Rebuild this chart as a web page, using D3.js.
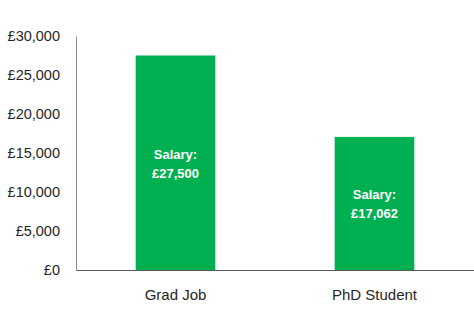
<!DOCTYPE html>
<html>
<head>
<meta charset="utf-8">
<style>
body { margin: 0; background: white; }
text { font-family: "Liberation Sans", Arial, sans-serif; }
</style>
<script src="https://d3js.org/d3.v7.min.js"></script>
</head>
<body>
<div id="chart"></div>
<script>
var categories = ["Grad Job", "PhD Student"];
var salaries = [27500, 17062];
var tickValues = [0, 5000, 10000, 15000, 20000, 25000, 30000];

var W = 474, H = 312;
var margin = {top: 36, right: 0, bottom: 42, left: 76};

var svg = d3.select("#chart").append("svg")
    .attr("width", W)
    .attr("height", H);

var x = d3.scaleBand()
    .domain(categories)
    .range([margin.left, W - margin.right])
    .paddingInner(0.6)
    .paddingOuter(0.3);

var y = d3.scaleLinear()
    .domain([0, 30000])
    .range([H - margin.bottom, margin.top]);

var fmt = function(v) { return "£" + d3.format(",")(v); };

// bars
svg.selectAll("rect.bar")
    .data(salaries)
    .enter().append("rect")
    .attr("class", "bar")
    .attr("x", function(d, i) { return x(categories[i]); })
    .attr("width", x.bandwidth())
    .attr("y", function(d) { return y(d); })
    .attr("height", function(d) { return y(0) - y(d); })
    .attr("fill", "#00b050");

// labels inside bars
var lab = svg.selectAll("text.blab")
    .data(salaries)
    .enter().append("text")
    .attr("class", "blab")
    .attr("text-anchor", "middle")
    .attr("fill", "white")
    .attr("font-weight", "bold")
    .attr("font-size", "13px")
    .attr("transform", function(d, i) {
        var cx = x(categories[i]) + x.bandwidth() / 2;
        var cy = (y(d) + y(0)) / 2;
        return "translate(" + cx + "," + cy + ")";
    });
lab.append("tspan").attr("x", 0).attr("y", -4).text("Salary:");
lab.append("tspan").attr("x", 0).attr("y", 15).text(function(d) { return fmt(d); });

// y axis
var yAxis = svg.append("g")
    .attr("transform", "translate(" + margin.left + ",0)")
    .call(d3.axisLeft(y).tickValues(tickValues).tickFormat(fmt).tickSize(0).tickPadding(16));
yAxis.select(".domain").attr("stroke", "#8c8c8c");
yAxis.selectAll("text")
    .attr("font-family", "Liberation Sans, Arial, sans-serif")
    .attr("font-size", "14.5px")
    .attr("fill", "#262626");

// x axis
var xAxis = svg.append("g")
    .attr("transform", "translate(0," + y(0) + ")")
    .call(d3.axisBottom(x).tickSize(0).tickPadding(19));
xAxis.select(".domain").attr("stroke", "#595959");
xAxis.selectAll("text")
    .attr("font-family", "Liberation Sans, Arial, sans-serif")
    .attr("font-size", "15px")
    .attr("fill", "#262626");
</script>
</body>
</html>
